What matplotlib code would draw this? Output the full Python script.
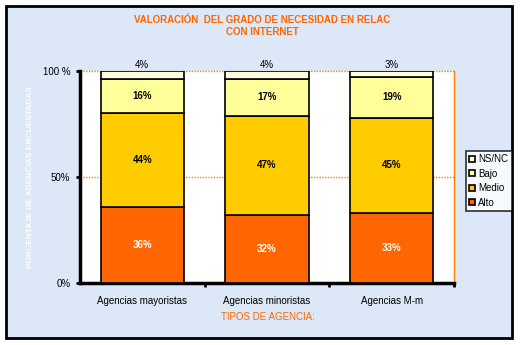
import numpy as np
import matplotlib.pyplot as plt
from matplotlib.patches import Rectangle

# datos
agencias = ['Agencias mayoristas', 'Agencias minoristas', 'Agencias M-m']
alto = [36, 32, 33]
medio = [44, 47, 45]
bajo = [16, 17, 19]
nsnc = [4, 4, 3]

series = [('Alto', alto, '#ff6600', 'white', 'bold'),
          ('Medio', medio, '#ffcc00', 'black', 'bold'),
          ('Bajo', bajo, '#ffff99', 'black', 'bold'),
          ('NS/NC', nsnc, '#fffde0', 'black', 'normal')]

plt.rcParams['font.family'] = ['Liberation Sans', 'DejaVu Sans']
W, H = 521, 345
fig = plt.figure(figsize=(W / 100, H / 100), dpi=100)
fig.patch.set_facecolor('white')

# fondo azul con marco negro
fig.patches.append(Rectangle((6 / W, 1 - 338 / H), 506 / W, 332 / H,
                             transform=fig.transFigure, facecolor='#dce7f7',
                             edgecolor='black', linewidth=2, zorder=-10))

ax = fig.add_axes([80 / W, 1 - 283 / H, 374 / W, 212 / H])
ax.set_facecolor('white')

x = np.arange(len(agencias))
base = np.zeros(len(agencias))
handles = []
for nombre, vals, color, tcolor, peso in series:
    vals = np.array(vals, dtype=float)
    b = ax.bar(x, vals, 0.67, bottom=base, color=color, edgecolor='black',
               linewidth=1.2, label=nombre, zorder=3)
    handles.append(b)
    for xi, v, b0 in zip(x, vals, base):
        if nombre == 'NS/NC':
            ax.text(xi, 100.5, f'{v:.0f}%', ha='center', va='bottom',
                    fontsize=7, color=tcolor)
        else:
            ax.text(xi, b0 + v / 2, f'{v:.0f}%', ha='center', va='center',
                    fontsize=7, color=tcolor, fontweight=peso)
    base += vals

ax.set_xlim(-0.5, 2.5)
ax.set_ylim(0, 100)

# ejes
ax.set_yticks([0, 50, 100])
ax.set_yticklabels(['0%', '50%', '100 %'], fontsize=7)
ax.tick_params(axis='y', length=3, width=2, pad=4)
ax.set_xticks(x)
ax.set_xticklabels(agencias, fontsize=7)
ax.tick_params(axis='x', length=0, pad=9)
ax.set_xticks([0.5, 1.5, 2.5], minor=True)
ax.tick_params(axis='x', which='minor', length=3, width=2)

for y in (50, 100):
    ax.axhline(y, color='#ff8000', lw=1, ls=(0, (1, 1)), zorder=1,
               clip_on=False)
ax.spines['top'].set_visible(False)
ax.spines['right'].set_color('#ff8000')
ax.spines['right'].set_linestyle((0, (1, 1)))
ax.spines['right'].set_linewidth(1)
ax.spines['left'].set_linewidth(2.5)
ax.spines['bottom'].set_linewidth(2.5)

leg = ax.legend(handles[::-1], [s[0] for s in series][::-1],
                loc='center left', bbox_to_anchor=(466 / W, 1 - 181 / H),
                bbox_transform=fig.transFigure, fontsize=7, frameon=True,
                fancybox=False, edgecolor='black', handlelength=0.6,
                handleheight=0.6, handletextpad=0.3, labelspacing=0.45,
                borderpad=0.35, borderaxespad=0)
leg.get_frame().set_linewidth(1.2)
leg.get_frame().set_facecolor('white')

naranja = '#ff6600'
fig.text(262 / W, 1 - 26 / H, 'VALORACIÓN  DEL GRADO DE NECESIDAD EN RELAC\nCON INTERNET',
         ha='center', va='center', fontsize=7, fontweight='bold', color=naranja,
         linespacing=1.15)
fig.text(268 / W, 1 - 317 / H, 'TIPOS DE AGENCIA:', ha='center', va='center',
         fontsize=7, color=naranja)
fig.text(31 / W, 1 - 177 / H, 'PORCENTAJE DE AGENCIAS ENCUESTADAS', rotation=90,
         ha='center', va='center', fontsize=6, fontweight='bold', color='white')

fig.savefig('out.png', dpi=100, facecolor=fig.get_facecolor())
